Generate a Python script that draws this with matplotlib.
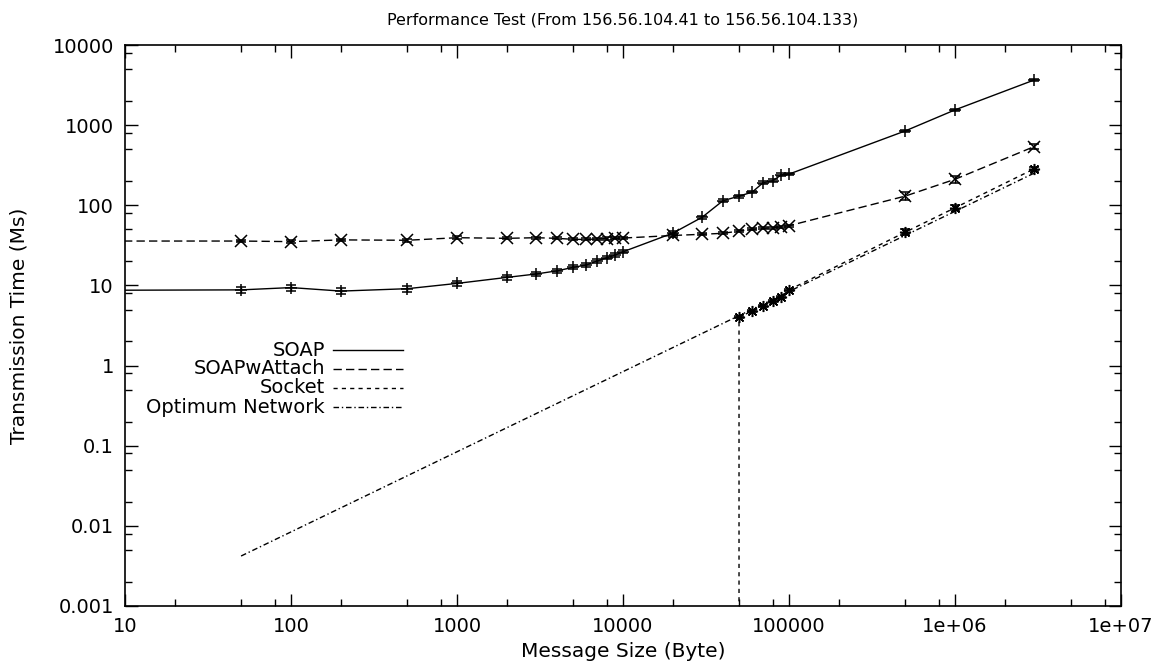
"""Performance test chart: transmission time vs message size (log-log)."""

import matplotlib
matplotlib.use('Agg')
import matplotlib.pyplot as plt
from matplotlib.ticker import FixedLocator, FixedFormatter, LogLocator, NullFormatter

plt.rcParams['font.family'] = 'DejaVu Sans'
plt.rcParams['font.size'] = 14

# SOAP (solid, '+')
soap_x = [1, 50, 100, 200, 500, 1000, 2000, 3000, 4000, 5000, 6000, 7000, 8000, 9000, 10000,
          20000, 30000, 40000, 50000, 60000, 70000, 80000, 90000, 100000,
          500000, 1000000, 3000000]
soap_y = [8.6, 8.8, 9.4, 8.5, 9.1, 10.6, 12.6, 13.9, 15.2, 16.8, 18.0, 20.2, 22.2, 24.0, 26.3,
          45, 71, 114, 130, 146, 192, 203, 240, 245,
          845, 1550, 3660]
soap_err = [0.0, 0.08, 0.09, 0.08, 0.09, 0.08, 0.07, 0.07, 0.06, 0.06, 0.05, 0.05, 0.05, 0.05, 0.05,
            0.05, 0.04, 0.04, 0.04, 0.04, 0.04, 0.04, 0.04, 0.04,
            0.04, 0.04, 0.04]

# SOAPwAttach (dashed, 'x')
attach_x = [1, 50, 100, 200, 500, 1000, 2000, 3000, 4000, 5000, 6000, 7000, 8000, 9000, 10000,
            20000, 30000, 40000, 50000, 60000, 70000, 80000, 90000, 100000,
            500000, 1000000, 3000000]
attach_y = [35.8, 35.8, 35.2, 37.0, 36.6, 39.4, 38.7, 39.4, 38.7, 37.6, 37.5, 38.0, 38.5, 38.8, 39.0,
            42, 43.5, 44.7, 47.7, 50, 51.6, 52.5, 54, 55.6,
            130, 211, 540]
attach_err = [0.0, 0.04, 0.04, 0.04, 0.04, 0.04, 0.03, 0.03, 0.03, 0.03, 0.03, 0.03, 0.03, 0.03, 0.03,
              0.03, 0.03, 0.03, 0.03, 0.03, 0.03, 0.03, 0.03, 0.03,
              0.12, 0.10, 0.08]

# Socket (short dashes, '*'); first point lies below the axis
socket_x = [50000, 50000, 60000, 70000, 80000, 90000, 100000, 500000, 1000000, 3000000]
socket_y = [0.0001, 4.0, 4.8, 5.5, 6.4, 7.2, 8.8, 46, 93, 285]
socket_err = [0.0, 0.03, 0.03, 0.03, 0.03, 0.03, 0.03, 0.09, 0.07, 0.06]

# Optimum Network (dash-dot, no marks)
optimum_x = [50, 100, 200, 500, 1000, 2000, 5000, 10000, 20000, 50000,
             100000, 500000, 1000000, 3000000]
optimum_y = [0.0042, 0.0084, 0.0168, 0.042, 0.084, 0.168, 0.42, 0.84, 1.68, 4.2,
             8.4, 42, 84, 252]

x_ticks = [10, 100, 1000, 10000, 100000, 1000000, 10000000]
x_tick_labels = ['10', '100', '1000', '10000', '100000', '1e+06', '1e+07']
y_ticks = [0.001, 0.01, 0.1, 1, 10, 100, 1000, 10000]
y_tick_labels = ['0.001', '0.01', '0.1', '1', '10', '100', '1000', '10000']

series = [
    ('SOAP', soap_x, soap_y, soap_err, '-', '+'),
    ('SOAPwAttach', attach_x, attach_y, attach_err, (0, (6, 3)), 'x'),
    ('Socket', socket_x, socket_y, socket_err, (0, (3, 3)), (8, 2, 0)),
]

fig = plt.figure(figsize=(11.58, 6.67), dpi=100)
ax = fig.add_axes([0.108, 0.0915, 0.860, 0.841])
ax.set_xscale('log')
ax.set_yscale('log')

styles = {}
for name, xs, ys, errs, ls, mk in series:
    yerr_lo = [y * e / (1 + e) for y, e in zip(ys, errs)]
    yerr_hi = [y * e for y, e in zip(ys, errs)]
    ax.errorbar(xs, ys, yerr=[yerr_lo, yerr_hi], color='black', linestyle=ls, linewidth=1.0,
                marker=mk, markersize=8, markeredgewidth=1.1, capsize=3.5, elinewidth=1.0)
    styles[name] = ls

ax.plot(optimum_x, optimum_y, color='black', linestyle=(0, (4, 2, 1, 2)), linewidth=1.0)
styles['Optimum Network'] = (0, (4, 2, 1, 2))

ax.set_xlim(10, 1e7)
ax.set_ylim(0.001, 10000)

# ticks, gnuplot style: inside, mirrored
ax.xaxis.set_major_locator(FixedLocator(x_ticks))
ax.xaxis.set_major_formatter(FixedFormatter(x_tick_labels))
ax.yaxis.set_major_locator(FixedLocator(y_ticks))
ax.yaxis.set_major_formatter(FixedFormatter(y_tick_labels))
ax.xaxis.set_minor_locator(LogLocator(base=10, subs=[2, 5, 8], numticks=20))
ax.yaxis.set_minor_locator(LogLocator(base=10, subs=[2, 5, 8], numticks=20))
ax.xaxis.set_minor_formatter(NullFormatter())
ax.yaxis.set_minor_formatter(NullFormatter())
ax.tick_params(which='both', direction='in', top=True, right=True, width=1.0, labelsize=14)
ax.tick_params(which='major', length=9, pad=8)
ax.tick_params(which='minor', length=5)
for s in ax.spines.values():
    s.set_linewidth(1.2)

ax.set_title('Performance Test (From 156.56.104.41 to 156.56.104.133)', fontsize=11.5, pad=15)
ax.set_xlabel('Message Size (Byte)', fontsize=14.5, labelpad=4)
ax.set_ylabel('Transmission Time (Ms)', fontsize=14.5, labelpad=17)

# right-aligned legend like gnuplot's key
names = ['SOAP', 'SOAPwAttach', 'Socket', 'Optimum Network']
row_y = [0.4563, 0.4225, 0.3886, 0.3547]
for name, yy in zip(names, row_y):
    ax.text(0.2008, yy, name, transform=ax.transAxes, ha='right', va='center', fontsize=14)
    ax.plot([0.2088, 0.279], [yy, yy], transform=ax.transAxes, color='black',
            linestyle=styles[name], linewidth=1.0)

fig.savefig('out.png', dpi=100)
